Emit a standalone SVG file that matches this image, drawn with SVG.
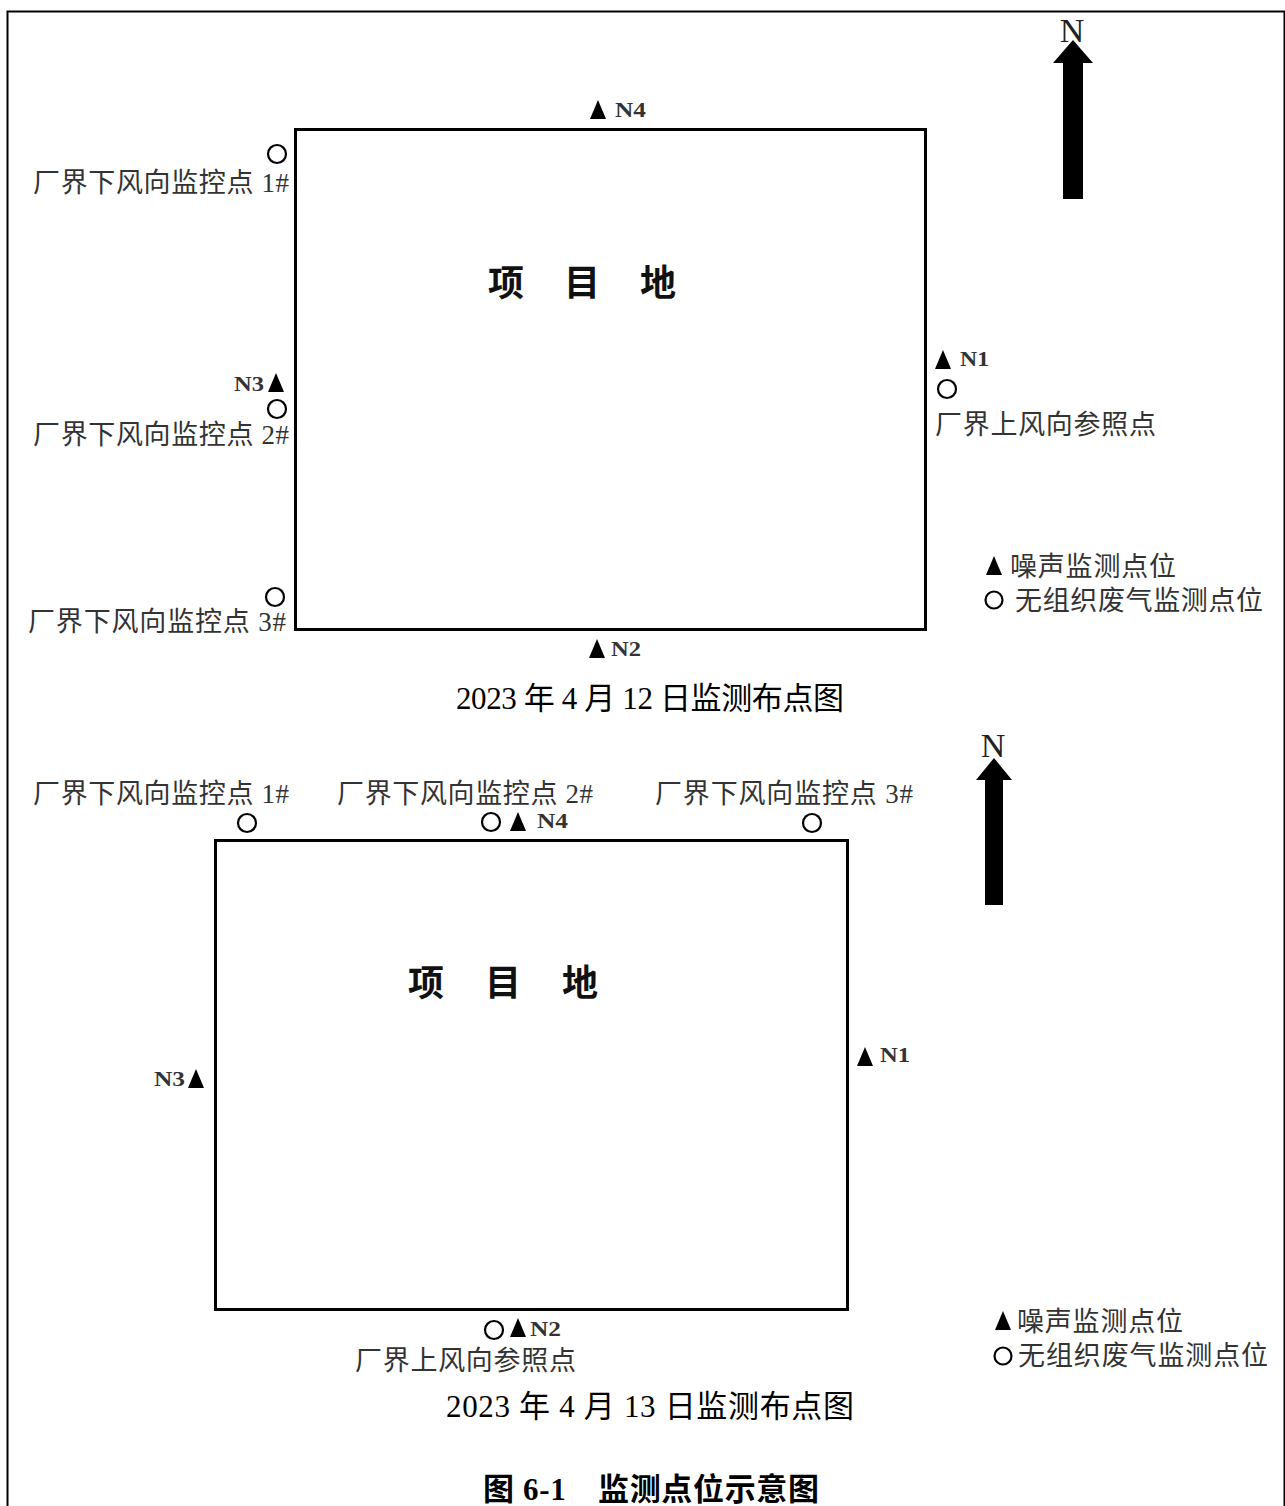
<svg xmlns="http://www.w3.org/2000/svg" width="1285" height="1506" viewBox="0 0 1285 1506">
<defs>
<style>
.frame{fill:none;stroke:#000;stroke-width:2}
.site{fill:none;stroke:#000;stroke-width:3}
.lbl{font-family:"Liberation Serif","Noto Sans CJK SC",serif;font-size:27px;fill:#333}
.cap{font-family:"Liberation Serif","Noto Sans CJK SC",serif;font-size:31px;fill:#000}
.nn{font-family:"Liberation Serif",serif;font-size:22px;font-weight:bold;fill:#333}
.big{font-family:"Noto Sans CJK SC",sans-serif;font-size:36px;font-weight:bold;fill:#111}
.title{font-family:"Liberation Serif","Noto Sans CJK SC",serif;font-size:31px;font-weight:bold;fill:#000}
.nmark{font-family:"Liberation Serif",serif;font-size:34px;fill:#222}
.pt{fill:none;stroke:#000;stroke-width:2.2}
</style>
<path id="tri" d="M0,-10 L8,9 L-8,9 Z" fill="#000"/>
</defs>
<path class="frame" d="M7.5,1506 V11.5 H1284.5 V1506"/>

<g id="diagram1">
<g id="site1"><rect class="site" x="295.5" y="129.5" width="630" height="500"/>
<text class="big" x="488" y="296" textLength="188" lengthAdjust="spacing">项 目 地</text></g>
<g id="north1"><text class="nmark" x="1072" y="42" text-anchor="middle">N</text>
<path d="M1073,40 L1093,63 L1083,63 L1083,199 L1063,199 L1063,63 L1053,63 Z" fill="#000"/></g>
<g id="n4a"><use href="#tri" x="598" y="110"/><text class="nn" x="615" y="117" textLength="31" lengthAdjust="spacingAndGlyphs">N4</text></g>
<g id="g1a"><circle class="pt" cx="277" cy="154" r="9"/><text class="lbl" x="33" y="192" textLength="256" lengthAdjust="spacing">厂界下风向监控点 1#</text></g>
<g id="n1a"><use href="#tri" x="943" y="360"/><text class="nn" x="960" y="366" textLength="29" lengthAdjust="spacingAndGlyphs">N1</text></g>
<g id="refa"><circle class="pt" cx="947" cy="389" r="9"/><text class="lbl" x="935" y="434" textLength="221" lengthAdjust="spacing">厂界上风向参照点</text></g>
<g id="n3a"><text class="nn" x="234" y="391" textLength="30" lengthAdjust="spacingAndGlyphs">N3</text><use href="#tri" x="276" y="383"/></g>
<g id="g2a"><circle class="pt" cx="277" cy="409" r="9"/><text class="lbl" x="33" y="444" textLength="256" lengthAdjust="spacing">厂界下风向监控点 2#</text></g>
<g id="g3a"><circle class="pt" cx="275" cy="597" r="9"/><text class="lbl" x="28" y="631" textLength="258" lengthAdjust="spacing">厂界下风向监控点 3#</text></g>
<g id="n2a"><use href="#tri" x="597" y="649"/><text class="nn" x="611" y="656" textLength="30" lengthAdjust="spacingAndGlyphs">N2</text></g>
<g id="legend1"><use href="#tri" x="994" y="566"/><text class="lbl" x="1010" y="576" textLength="166" lengthAdjust="spacing">噪声监测点位</text>
<circle class="pt" cx="994" cy="600" r="8.5"/><text class="lbl" x="1015" y="610" textLength="248" lengthAdjust="spacing">无组织废气监测点位</text></g>
<text class="cap" x="456" y="709" textLength="388" lengthAdjust="spacing">2023 年 4 月 12 日监测布点图</text>
</g>

<g id="diagram2">
<g id="site2"><rect class="site" x="215.5" y="840.5" width="632" height="469"/>
<text class="big" x="408" y="996" textLength="190" lengthAdjust="spacing">项 目 地</text></g>
<g id="north2"><text class="nmark" x="993" y="757" text-anchor="middle">N</text>
<path d="M994,758 L1012,780 L1003,780 L1003,905 L985,905 L985,780 L976,780 Z" fill="#000"/></g>
<g id="g1b"><text class="lbl" x="33" y="803" textLength="256" lengthAdjust="spacing">厂界下风向监控点 1#</text><circle class="pt" cx="247" cy="823" r="9"/></g>
<g id="g2b"><text class="lbl" x="337" y="803" textLength="256" lengthAdjust="spacing">厂界下风向监控点 2#</text><circle class="pt" cx="491" cy="822" r="9"/></g>
<g id="n4b"><use href="#tri" x="518" y="822"/><text class="nn" x="537" y="828" textLength="31" lengthAdjust="spacingAndGlyphs">N4</text></g>
<g id="g3b"><text class="lbl" x="655" y="803" textLength="258" lengthAdjust="spacing">厂界下风向监控点 3#</text><circle class="pt" cx="812" cy="823" r="9"/></g>
<g id="n3b"><text class="nn" x="154" y="1086" textLength="31" lengthAdjust="spacingAndGlyphs">N3</text><use href="#tri" x="196" y="1079"/></g>
<g id="n1b"><use href="#tri" x="865" y="1057"/><text class="nn" x="880" y="1062" textLength="30" lengthAdjust="spacingAndGlyphs">N1</text></g>
<g id="refb"><circle class="pt" cx="494" cy="1330" r="9"/><text class="lbl" x="355" y="1370" textLength="221" lengthAdjust="spacing">厂界上风向参照点</text></g>
<g id="n2b"><use href="#tri" x="518" y="1328"/><text class="nn" x="530" y="1336" textLength="31" lengthAdjust="spacingAndGlyphs">N2</text></g>
<g id="legend2"><use href="#tri" x="1003" y="1321"/><text class="lbl" x="1017" y="1331" textLength="166" lengthAdjust="spacing">噪声监测点位</text>
<circle class="pt" cx="1003" cy="1356" r="8.5"/><text class="lbl" x="1018" y="1365" textLength="250" lengthAdjust="spacing">无组织废气监测点位</text></g>
<text class="cap" x="446" y="1417" textLength="408" lengthAdjust="spacing">2023 年 4 月 13 日监测布点图</text>
</g>

<text class="title" x="483" y="1500" textLength="336" lengthAdjust="spacing">图 6-1　监测点位示意图</text>
</svg>
